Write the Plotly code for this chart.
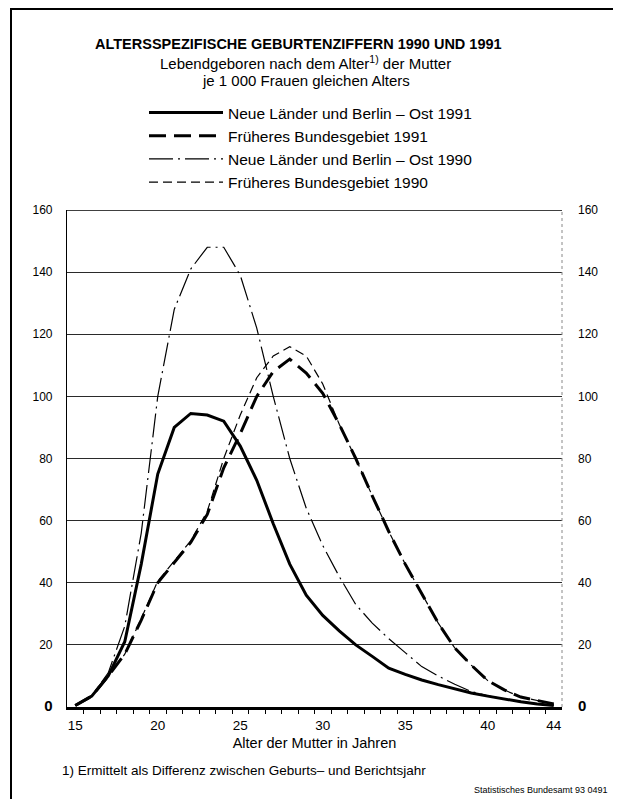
import plotly.graph_objects as go

# ---------------- data ----------------
ages = list(range(15, 45))
ost_1991 = [0.5, 3.5, 10, 21, 46, 75, 90, 94.5, 94, 92, 84, 73, 59, 46, 36,
            29.5, 24.5, 20, 16.3, 12.5, 10.5, 8.7, 7.2, 5.8, 4.5, 3.5, 2.5, 1.7, 1.0, 0.5]
brd_1991 = [0.5, 3.5, 10, 17, 28, 40, 46.5, 53, 62, 77, 88, 100, 108, 112, 107.5,
            101, 91, 80, 68, 56.5, 46, 36.5, 27, 19, 13.5, 8.5, 5.5, 3.2, 2, 1]
ost_1990 = [0.5, 3.5, 11, 26, 56, 100, 128, 141, 148, 148, 139, 122, 100, 80, 64,
            52, 42, 33, 27, 22, 17.5, 13, 10, 7.3, 5, 3.6, 2.6, 1.8, 1.0, 0.5]
brd_1990 = [0.5, 3.5, 10, 17, 28.5, 40.5, 47, 53.5, 63, 80, 94, 106, 113, 116, 113,
            104, 91, 80, 68, 56.5, 46, 36.5, 27, 19, 13.5, 8.5, 5.5, 3.2, 2, 1]

names = ["Neue Länder und Berlin – Ost 1991", "Früheres Bundesgebiet 1991",
         "Neue Länder und Berlin – Ost 1990", "Früheres Bundesgebiet 1990"]

y_ticks = [0, 20, 40, 60, 80, 100, 120, 140, 160]
y_ticktext = ['<span style="font-size:15px"><b>0</b></span>', "20", "40", "60", "80",
              "100", "120", "140", "160"]
x_ticks = [15, 20, 25, 30, 35, 40, 44]

title = "<b>ALTERSSPEZIFISCHE GEBURTENZIFFERN 1990 UND 1991</b>"
sub1 = "Lebendgeboren nach dem Alter<sup>1)</sup> der Mutter"
sub2 = "je 1 000 Frauen gleichen Alters"
x_title = "Alter der Mutter in Jahren"
footnote = "1) Ermittelt als Differenz zwischen Geburts– und Berichtsjahr"
source = "Statistisches Bundesamt 93 0491"

# ---------------- layout geometry ----------------
# the page body adds an 8px offset, so the figure is 8px smaller than the window
OFF = 8
W, H = 621 - OFF, 799 - OFF
L, R, T, B = 67, 562, 210, 707          # plot area in window pixels
FONT = "Liberation Sans, Arial, Helvetica, sans-serif"


def px_x(px):
    return (px - L) / (R - L)


def px_y(py):
    return (B - py) / (B - T)


fig = go.Figure()

styles = [
    dict(width=3, dash="solid"),
    dict(width=3, dash="17px,8px"),
    dict(width=1.2, dash="24px,5px,2px,5px"),
    dict(width=1.2, dash="9px,5px"),
]
series = [ost_1991, brd_1991, ost_1990, brd_1990]
draw_order = [2, 3, 0, 1]
for i in draw_order:
    fig.add_trace(go.Scatter(
        x=ages, y=series[i], mode="lines", name=names[i],
        line=dict(color="black", width=styles[i]["width"], dash=styles[i]["dash"]),
        legendrank=i + 1, legendgroup=f"g{i}",
    ))

fig.update_layout(
    width=W, height=H,
    margin=dict(l=L - OFF, r=W - (R - OFF), t=T - OFF, b=H - (B - OFF), pad=0),
    paper_bgcolor="white", plot_bgcolor="white",
    font=dict(family=FONT, color="black", size=12),
    showlegend=True,
    legend=dict(x=px_x(144), y=px_y(96), xanchor="left", yanchor="top",
                itemwidth=74, font=dict(size=15.5, family=FONT),
                tracegroupgap=0, traceorder="grouped",
                bgcolor="rgba(0,0,0,0)", borderwidth=0,
                itemclick=False),
    xaxis=dict(range=[14.5, 44.5], tickmode="array", tickvals=x_ticks,
               ticktext=[str(v) for v in x_ticks], ticks="", showgrid=False,
               zeroline=False, showline=True, linecolor="black", linewidth=2.5,
               tickfont=dict(size=13.5), ticklabelstandoff=4,
               minor=dict(tickmode="array",
                          tickvals=[a + 0.5 for a in ages[:-1]],
                          ticks="outside", ticklen=4, tickwidth=1, tickcolor="black",
                          showgrid=False),
               title=dict(text=x_title, font=dict(size=14.5), standoff=6)),
    yaxis=dict(range=[0, 160], tickmode="array", tickvals=y_ticks, ticktext=y_ticktext,
               ticks="", showgrid=True, gridcolor="#2a2a2a", gridwidth=1,
               zeroline=False, showline=True, linecolor="black", linewidth=1.2,
               tickfont=dict(size=12), ticklabelstandoff=11),
    yaxis2=dict(range=[0, 160], tickmode="array", tickvals=y_ticks, ticktext=y_ticktext,
                overlaying="y", side="right", ticks="", showgrid=False, zeroline=False,
                showline=False, tickfont=dict(size=12), ticklabelstandoff=15),
)

# an invisible helper trace so the right axis is rendered
fig.add_trace(go.Scatter(x=[ages[0]], y=[0], yaxis="y2", mode="markers",
                         marker=dict(opacity=0), showlegend=False, hoverinfo="skip"))

shapes = [
    # top border of plot (160 line)
    dict(type="line", xref="paper", yref="y", x0=0, x1=1, y0=160, y1=160,
         line=dict(color="black", width=1.3)),
    # faint dotted right edge
    dict(type="line", xref="paper", yref="paper", x0=1, x1=1, y0=0, y1=1,
         line=dict(color="#888", width=1, dash="dot")),
    # outer frame
    dict(type="rect", xref="paper", yref="paper", x0=px_x(11), x1=px_x(617),
         y0=px_y(830), y1=px_y(9), line=dict(color="black", width=2)),
]
fig.update_layout(shapes=shapes)

ann = [
    dict(text=title, x=px_x(298), y=px_y(44), font=dict(size=14.5)),
    dict(text=sub1, x=px_x(305), y=px_y(63), font=dict(size=15)),
    dict(text=sub2, x=px_x(306), y=px_y(81), font=dict(size=15)),
    dict(text=footnote, x=px_x(60), y=px_y(770), xanchor="left", font=dict(size=13.5)),
    dict(text=source, x=px_x(610), y=px_y(790), xanchor="right", font=dict(size=9)),
]
for a in ann:
    a.setdefault("xanchor", "center")
    fig.add_annotation(xref="paper", yref="paper", yanchor="middle", showarrow=False, **a)

fig.write_html("out.html")
